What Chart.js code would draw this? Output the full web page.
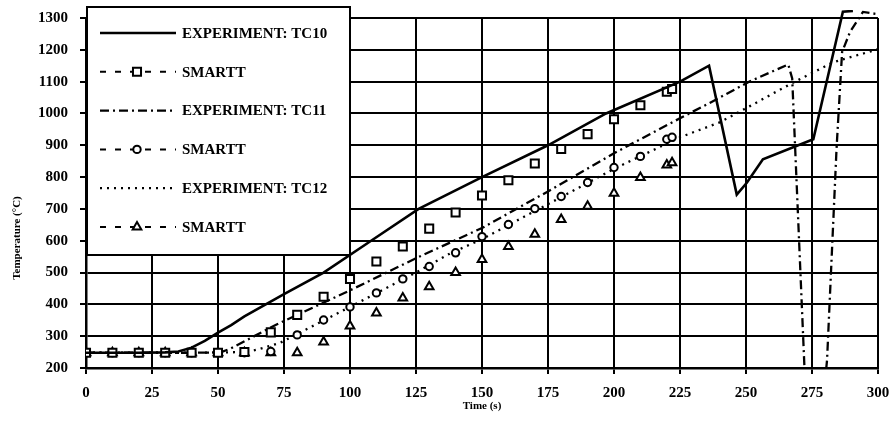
<!DOCTYPE html>
<html>
<head>
<meta charset="utf-8">
<script src="https://cdn.jsdelivr.net/npm/chart.js"></script>
<style>
  html, body { margin: 0; padding: 0; background: #fff; }
</style>
</head>
<body>
<canvas id="tempChart" width="892" height="433"></canvas>
<script>
// experiment curves (time s, temperature C)
const tc10Time = [0, 10, 20, 30, 35, 40, 45, 50, 55, 60, 75, 90, 108, 126, 150, 175, 197, 225, 236, 246.5, 250.3, 256.4, 275.5, 286.7, 290.5];
const tc10Temp = [248, 248, 248, 249, 252, 264, 285, 311, 335, 362, 432, 500, 600, 700, 800, 900, 1000, 1100, 1150, 745, 782, 856, 919, 1320, 1322];

const tc11Time = [0, 20, 40, 51, 55, 63, 72, 100, 125, 150, 175, 200, 225, 236, 251.5, 266, 267.5, 272.2, 280.3, 280.7, 284.3, 286.4, 289.4, 294.3, 300];
const tc11Temp = [248, 248, 248, 249, 262, 297, 336, 444, 545, 640, 755, 875, 985, 1032, 1101, 1154, 1110, 190, 190, 225, 890, 1193, 1256, 1319, 1312];

const tc12Time = [0, 20, 40, 60, 65, 73.5, 100, 125, 137.9, 150, 175, 200, 225, 240, 251.5, 266.7, 283, 300];
const tc12Temp = [248, 248, 248, 250, 258, 279, 392, 500, 560, 605, 715, 826, 925, 972, 1023, 1092, 1161, 1202];

// SMARTT predictions, one value every 10 s
const smarttTime = [0, 10, 20, 30, 40, 50, 60, 70, 80, 90, 100, 110, 120, 130, 140, 150, 160, 170, 180, 190, 200, 210, 220, 222];
const smarttTC10 = [248, 248, 248, 248, 248, 248, 250, 312, 367, 424, 480, 535, 582, 638, 689, 742, 790, 843, 888, 935, 982, 1026, 1068, 1077];
const smarttTC11 = [248, 248, 248, 248, 248, 248, 248, 252, 304, 351, 392, 436, 480, 519, 562, 613, 651, 701, 739, 783, 830, 865, 919, 925];
const smarttTC12 = [248, 248, 248, 248, 248, 248, 248, 248, 248, 282, 332, 373, 420, 455, 500, 541, 582, 620, 667, 708, 749, 799, 838, 845];

const pts = (xs, ys) => xs.map((x, i) => ({ x: x, y: ys[i] }));
const serif = 'Liberation Serif, Times New Roman, serif';

const lineClip = { left: 2, top: 8, right: 2, bottom: 0 };

const datasets = [
  { label: 'EXPERIMENT: TC10', data: pts(tc10Time, tc10Temp), borderColor: '#000', borderWidth: 2.6,
    pointRadius: 0, tension: 0, clip: lineClip, legendDash: [] },
  { label: 'SMARTT', data: pts(smarttTime, smarttTC10), showLine: false, pointStyle: 'rect', pointRadius: 5.7,
    pointBorderWidth: 2, pointBorderColor: '#000', pointBackgroundColor: '#fff', legendDash: [6, 9] },
  { label: 'EXPERIMENT: TC11', data: pts(tc11Time, tc11Temp), borderColor: '#000', borderWidth: 2.3,
    borderDash: [9, 4, 2, 4], pointRadius: 0, tension: 0, clip: lineClip, legendDash: [9, 4, 2, 4] },
  { label: 'SMARTT', data: pts(smarttTime, smarttTC11), showLine: false, pointStyle: 'circle', pointRadius: 3.7,
    pointBorderWidth: 2, pointBorderColor: '#000', pointBackgroundColor: '#fff', legendDash: [6, 9] },
  { label: 'EXPERIMENT: TC12', data: pts(tc12Time, tc12Temp), borderColor: '#000', borderWidth: 2.3,
    borderDash: [2, 5], pointRadius: 0, tension: 0, clip: lineClip, legendDash: [2, 5] },
  { label: 'SMARTT', data: pts(smarttTime, smarttTC12), showLine: false, pointStyle: 'triangle', pointRadius: 5,
    pointBorderWidth: 2, pointBorderColor: '#000', pointBackgroundColor: '#fff', legendDash: [6, 9] }
];

function drawMarker(ctx, style, x, y, r) {
  ctx.beginPath();
  if (style === 'rect') {
    const s = r * Math.SQRT1_2;
    ctx.rect(x - s, y - s, 2 * s, 2 * s);
  } else if (style === 'triangle') {
    let a = 0;
    ctx.moveTo(x + Math.sin(a) * r, y - Math.cos(a) * r);
    a += 2 * Math.PI / 3;
    ctx.lineTo(x + Math.sin(a) * r, y - Math.cos(a) * r);
    a += 2 * Math.PI / 3;
    ctx.lineTo(x + Math.sin(a) * r, y - Math.cos(a) * r);
    ctx.closePath();
  } else {
    ctx.arc(x, y, r, 0, Math.PI * 2);
  }
  ctx.fill();
  ctx.stroke();
}

// boxed legend at top left plus the y title
const boxLegend = {
  id: 'boxLegend',
  afterDraw(chart) {
    const ctx = chart.ctx;
    ctx.save();
    ctx.fillStyle = '#fff';
    ctx.fillRect(87, 7, 263, 248);
    ctx.strokeStyle = '#000';
    ctx.lineWidth = 2;
    ctx.strokeRect(87, 7, 263, 248);

    chart.data.datasets.forEach((ds, i) => {
      const y = 33 + i * 38.8;
      ctx.strokeStyle = '#000';
      ctx.lineWidth = ds.showLine === false ? 2 : ds.borderWidth;
      ctx.setLineDash(ds.legendDash);
      ctx.beginPath();
      ctx.moveTo(100, y);
      ctx.lineTo(176, y);
      ctx.stroke();
      ctx.setLineDash([]);
      if (ds.showLine === false) {
        ctx.fillStyle = '#fff';
        ctx.lineWidth = 2;
        drawMarker(ctx, ds.pointStyle, 137, y, ds.pointRadius);
      }
      ctx.fillStyle = '#000';
      ctx.font = 'bold 15px ' + serif;
      ctx.textAlign = 'left';
      ctx.textBaseline = 'middle';
      ctx.fillText(ds.label, 182, y + 1);
    });

    ctx.translate(17, 238);
    ctx.rotate(-Math.PI / 2);
    ctx.font = 'bold 11px ' + serif;
    ctx.textAlign = 'center';
    ctx.textBaseline = 'middle';
    ctx.fillStyle = '#000';
    ctx.fillText('Temperature (\u00B0C)', 0, 0);
    ctx.restore();
  }
};

const ctxTemp = document.getElementById('tempChart').getContext('2d');
new Chart(ctxTemp, {
  type: 'line',
  data: { datasets: datasets },
  options: {
    responsive: false,
    animation: false,
    layout: { padding: { left: 0, right: 14, top: 18, bottom: 0 } },
    plugins: { legend: { display: false }, tooltip: { enabled: false } },
    scales: {
      x: {
        type: 'linear', min: 0, max: 300,
        afterFit: scale => { scale.height = 65; scale.paddingLeft = 0; scale.paddingRight = 0; },
        ticks: { stepSize: 25, color: '#000', padding: 10, maxRotation: 0,
          font: { family: serif, size: 15, weight: 'bold' } },
        grid: { color: '#000', lineWidth: 2, tickLength: 6, tickColor: '#000', tickWidth: 2 },
        border: { color: '#000', width: 2.5 },
        title: { display: true, text: 'Time (s)', color: '#000', padding: { top: 0, bottom: 20 },
          font: { family: serif, size: 11, weight: 'bold' } }
      },
      y: {
        min: 200, max: 1300,
        afterFit: scale => { scale.width = 86; scale.paddingTop = 0; scale.paddingBottom = 0; },
        ticks: { stepSize: 100, color: '#000', padding: 12, callback: v => String(v),
          font: { family: serif, size: 15, weight: 'bold' } },
        grid: { color: '#000', lineWidth: 2, tickLength: 6, tickColor: '#000', tickWidth: 2 },
        border: { color: '#000', width: 2.5 }
      }
    }
  },
  plugins: [boxLegend]
});
</script>
</body>
</html>
